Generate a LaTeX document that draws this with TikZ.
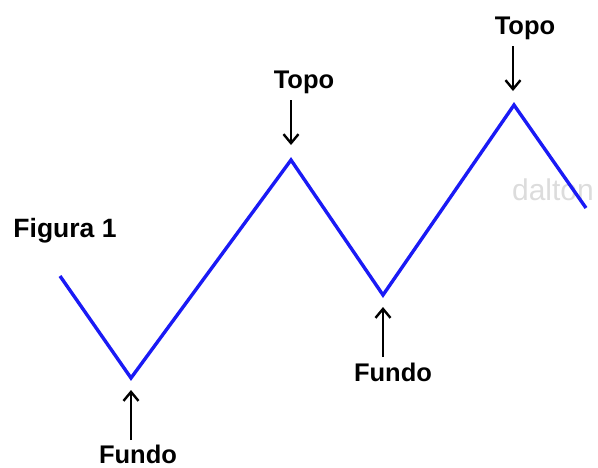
\documentclass[tikz,border=0pt]{standalone}
\usepackage{fontspec}
\setmainfont{Liberation Sans}
\usetikzlibrary{arrows.meta}
\definecolor{zigblue}{HTML}{1A1AF5}
\definecolor{markgray}{HTML}{DCDCDC}

\begin{document}
\begin{tikzpicture}[x=1pt,y=-1pt]
\tikzset{
  lbl/.style={font=\bfseries\fontsize{25.5}{27}\selectfont,inner sep=0pt},
  pointer/.style={-{Straight Barb[length=9pt,width=15pt,line width=2.4pt]},line width=2.6pt,black}
}
\useasboundingbox (0,0) rectangle (598,467);
% watermark (behind the line)
\node[text=markgray,font=\fontsize{30}{32}\selectfont,inner sep=0pt] (mark) at (553,190) {dalton};
% zigzag
\coordinate (z0) at (60,276);
\coordinate (z1) at (131,378);
\coordinate (z2) at (291,160);
\coordinate (z3) at (383,295);
\coordinate (z4) at (514,105);
\coordinate (z5) at (586,208);
\draw[zigblue,line width=3.4pt,line join=miter] (z0) -- (z1) -- (z2) -- (z3) -- (z4) -- (z5);
% labels
\node[font=\bfseries\fontsize{26.5}{28}\selectfont,inner sep=0pt] (fig) at (65,231) {Figura 1};
\node[lbl] (topoA) at (304,82) {Topo};
\node[lbl] (topoB) at (525,28) {Topo};
\node[lbl] (fundoA) at (138,454) {Fundo};
\node[lbl] (fundoB) at (393,372) {Fundo};
% pointers
\coordinate (tA0) at (291,100);
\coordinate (tA) at (291,145);
\coordinate (tB0) at (513,46);
\coordinate (tB) at (513,91);
\coordinate (fA0) at (131,440);
\coordinate (fA) at (131,390);
\coordinate (fB0) at (383,357);
\coordinate (fB) at (383,307);
\draw[pointer] (tA0) -- (tA);
\draw[pointer] (tB0) -- (tB);
\draw[pointer] (fA0) -- (fA);
\draw[pointer] (fB0) -- (fB);
\end{tikzpicture}
\end{document}
